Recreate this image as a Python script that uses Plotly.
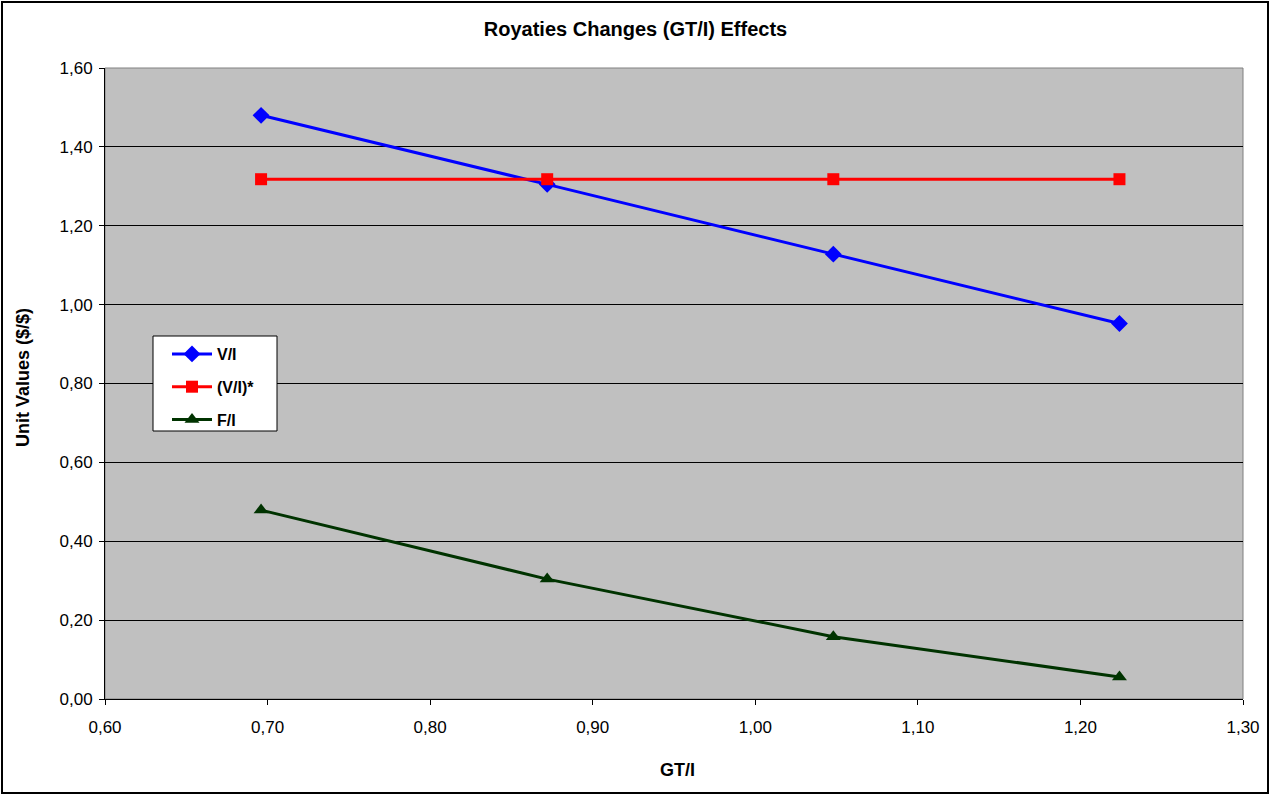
import plotly.graph_objects as go

x_vals = [0.696, 0.872, 1.048, 1.224]
v_i = [1.480, 1.305, 1.128, 0.952]
v_i_star = [1.318, 1.318, 1.318, 1.318]
f_i = [0.479, 0.304, 0.158, 0.056]

x_ticks = [0.6, 0.7, 0.8, 0.9, 1.0, 1.1, 1.2, 1.3]
y_ticks = [0.0, 0.2, 0.4, 0.6, 0.8, 1.0, 1.2, 1.4, 1.6]

def fmt(v):
    return f"{v:.2f}".replace(".", ",")

fig = go.Figure()
fig.add_trace(go.Scatter(x=x_vals, y=v_i, name="<b>V/I</b>", mode="lines+markers",
                         legendgroup="a",
                         line=dict(color="#0000FF", width=3),
                         marker=dict(symbol="diamond", size=13, color="#0000FF")))
fig.add_trace(go.Scatter(x=x_vals, y=v_i_star, name="<b>(V/I)*</b>", mode="lines+markers",
                         legendgroup="b",
                         line=dict(color="#FF0000", width=3),
                         marker=dict(symbol="square", size=12, color="#FF0000")))
fig.add_trace(go.Scatter(x=x_vals, y=f_i, name="<b>F/I</b>", mode="lines+markers",
                         legendgroup="c",
                         line=dict(color="#003300", width=3),
                         marker=dict(symbol="triangle-up", size=13, color="#003300")))

L, R, T, B = 105, 28, 68, 97
W, H = 1271, 796
pw, ph = W - L - R, H - T - B

def px(x):
    return (x - L) / pw

def py(y):
    return (H - B - y) / ph

FONT = "Arial, Liberation Sans, sans-serif"

fig.update_layout(
    width=W, height=H,
    margin=dict(l=L, r=R, t=T, b=B),
    paper_bgcolor="white",
    plot_bgcolor="#C0C0C0",
    font=dict(family=FONT, size=17, color="black"),
    title=dict(text="<b>Royaties Changes (GT/I) Effects</b>", x=0.5, xref="container",
               xanchor="center", y=1 - 29 / H, yanchor="middle", font=dict(size=20)),
    showlegend=True,
    legend=dict(x=px(167), y=py(337), xanchor="left", yanchor="top",
                bgcolor="rgba(0,0,0,0)", borderwidth=0,
                font=dict(size=16), tracegroupgap=9, itemwidth=40),
    xaxis=dict(range=[0.6, 1.3], tickvals=x_ticks, ticktext=[fmt(v) for v in x_ticks],
               showgrid=False, zeroline=False, showline=True, linecolor="black",
               linewidth=1, ticks="outside", ticklen=5, tickcolor="black",
               tickfont=dict(size=17), ticklabelstandoff=8),
    yaxis=dict(range=[0, 1.6], tickvals=y_ticks, ticktext=[fmt(v) for v in y_ticks],
               showgrid=True, gridcolor="black", gridwidth=1, zeroline=False,
               showline=True, linecolor="black", linewidth=1, ticks="outside",
               ticklen=5, tickcolor="black", tickfont=dict(size=17), ticklabelstandoff=3),
    annotations=[
        dict(text="<b>GT/I</b>", xref="paper", yref="paper", x=px(677), y=py(770),
             xanchor="center", yanchor="middle", showarrow=False, font=dict(size=18)),
        dict(text="<b>Unit Values ($/$)</b>", xref="paper", yref="paper", x=px(23),
             y=py(378), xanchor="center", yanchor="middle", textangle=-90,
             showarrow=False, font=dict(size=18)),
    ],
)

fig.add_shape(type="rect", xref="paper", yref="paper", x0=0, x1=1, y0=0, y1=1,
              line=dict(color="#808080", width=1), layer="below")
fig.add_shape(type="rect", xref="paper", yref="paper",
              x0=px(153), x1=px(277), y0=py(431), y1=py(336),
              fillcolor="white", line=dict(color="black", width=1), layer="above")
fig.add_shape(type="rect", xref="paper", yref="paper",
              x0=px(2), x1=px(1268), y0=py(793), y1=py(2),
              line=dict(color="black", width=2))

fig.write_html("out.html")
